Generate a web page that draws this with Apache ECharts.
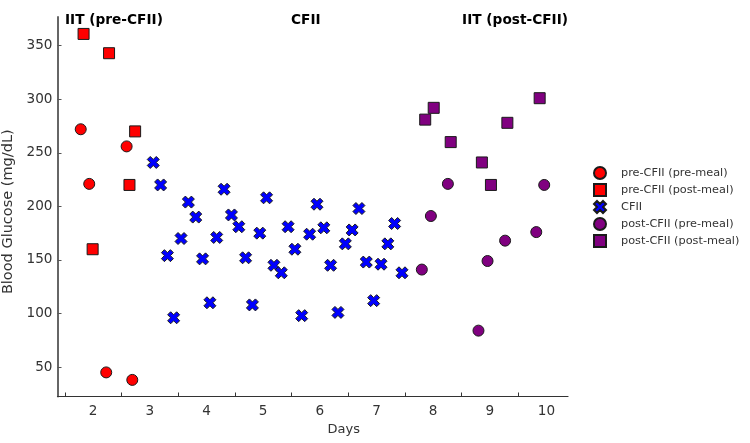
<!DOCTYPE html>
<html>
<head>
<meta charset="utf-8">
<script src="https://cdn.jsdelivr.net/npm/echarts@6/dist/echarts.min.js"></script>
<style>
  html, body { margin: 0; padding: 0; background: #fff; }
  #main { width: 750px; height: 443px; }
</style>
</head>
<body>
<div id="main"></div>
<script>
// data: [day, mg/dL]
var preCfiiPre = [[1.78, 272], [1.93, 221], [2.59, 256], [2.23, 45], [2.69, 38]];
var preCfiiPost = [[1.83, 361], [2.28, 343], [2.74, 270], [2.64, 220], [1.99, 160]];
var cfii = [
  [3.06, 241], [3.19, 220], [3.31, 154], [3.42, 96], [3.55, 170], [3.68, 204],
  [3.81, 190], [3.93, 151], [4.06, 110], [4.18, 171], [4.31, 216], [4.44, 192],
  [4.57, 181], [4.69, 152], [4.81, 108], [4.94, 175], [5.06, 208], [5.19, 145],
  [5.32, 138], [5.44, 181], [5.56, 160], [5.68, 98], [5.82, 174], [5.95, 202],
  [6.07, 180], [6.19, 145], [6.32, 101], [6.45, 165], [6.57, 178], [6.69, 198],
  [6.82, 148], [6.95, 112], [7.08, 146], [7.20, 165], [7.32, 184], [7.45, 138]
];
var postCfiiPre = [[7.80, 141], [7.96, 191], [8.26, 221], [8.80, 84], [8.96, 149], [9.27, 168], [9.82, 176], [9.96, 220]];
var postCfiiPost = [[7.86, 281], [8.01, 292], [8.31, 260], [8.86, 241], [9.02, 220], [9.31, 278], [9.88, 301]];

var xLabels = [2, 3, 4, 5, 6, 7, 8, 9, 10];
var xTicks = [1.5, 2.5, 3.5, 4.5, 5.5, 6.5, 7.5, 8.5, 9.5];
var yTicks = [50, 100, 150, 200, 250, 300, 350];
var seriesNames = ['pre-CFII (pre-meal)', 'pre-CFII (post-meal)', 'CFII', 'post-CFII (pre-meal)', 'post-CFII (post-meal)'];

var xPath = 'path://M1,0 L2,1 L3,0 L4,1 L3,2 L4,3 L3,4 L2,3 L1,4 L0,3 L1,2 L0,1 Z';
var font = 'DejaVu Sans';

var myChart = echarts.init(document.getElementById('main'));

function scatter(name, data, symbol, color) {
  return {
    name: name,
    type: 'scatter',
    data: data,
    symbol: symbol,
    symbolSize: symbol === xPath ? 12 : 11,
    itemStyle: { color: color, borderColor: '#1a1a1a', borderWidth: 1, opacity: 1 },
    emphasis: { disabled: true }
  };
}

var option = {
  animation: false,
  textStyle: { fontFamily: font },
  grid: { left: 57.5, right: 182, top: 17, bottom: 46.5, containLabel: false, outerBoundsMode: 'none' },
  legend: {
    orient: 'vertical',
    left: 588,
    top: 161,
    itemWidth: 12,
    itemHeight: 12,
    itemGap: 3,
    data: seriesNames,
    textStyle: { fontFamily: font, fontSize: 11.3, color: '#333', padding: [0, 0, 0, 10] }
  },
  xAxis: {
    type: 'value',
    min: 1.37,
    max: 10.38,
    name: 'Days',
    nameLocation: 'middle',
    nameGap: 26,
    nameTextStyle: { fontFamily: font, fontSize: 13, color: '#333', padding: [0, 0, 0, 62] },
    axisLine: { show: true, lineStyle: { color: '#333', width: 1.2 } },
    axisTick: { show: true, inside: true, length: 4, customValues: xTicks, lineStyle: { color: '#333' } },
    axisLabel: { customValues: xLabels, fontFamily: font, fontSize: 13.6, color: '#333', margin: 8 },
    splitLine: { show: false }
  },
  yAxis: {
    type: 'value',
    min: 22.5,
    max: 376.8,
    name: 'Blood Glucose (mg/dL)',
    nameLocation: 'middle',
    nameGap: 35,
    nameTextStyle: { fontFamily: font, fontSize: 14.5, color: '#333', padding: [0, 10, 0, 0] },
    axisLine: { show: true, lineStyle: { color: '#666', width: 2 } },
    axisTick: { show: true, inside: true, length: 4, customValues: yTicks, lineStyle: { color: '#555' } },
    axisLabel: { customValues: yTicks, fontFamily: font, fontSize: 13.6, color: '#333', margin: 5 },
    splitLine: { show: false }
  },
  graphic: [
    { type: 'text', left: 65, top: 13, style: { text: 'IIT (pre-CFII)', font: 'bold 13.7px "DejaVu Sans"', fill: '#000' } },
    { type: 'text', left: 291, top: 13, style: { text: 'CFII', font: 'bold 13.7px "DejaVu Sans"', fill: '#000' } },
    { type: 'text', right: 182, top: 13, style: { text: 'IIT (post-CFII)', font: 'bold 13.7px "DejaVu Sans"', fill: '#000' } }
  ],
  series: [
    scatter(seriesNames[0], preCfiiPre, 'circle', '#ff0000'),
    scatter(seriesNames[1], preCfiiPost, 'rect', '#ff0000'),
    scatter(seriesNames[2], cfii, xPath, '#0000ff'),
    scatter(seriesNames[3], postCfiiPre, 'circle', '#800080'),
    scatter(seriesNames[4], postCfiiPost, 'rect', '#800080')
  ]
};

myChart.setOption(option, true);
</script>
</body>
</html>
